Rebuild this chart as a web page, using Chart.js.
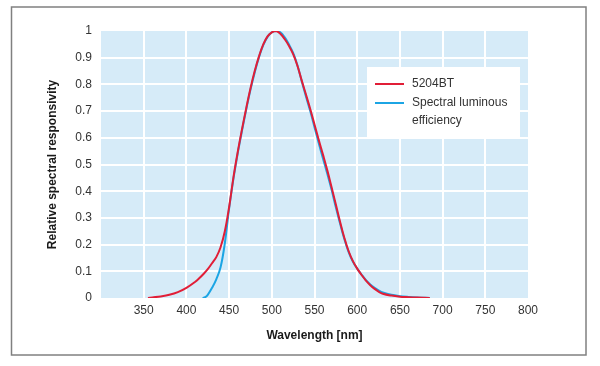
<!DOCTYPE html>
<html>
<head>
<meta charset="utf-8">
<script src="https://cdn.jsdelivr.net/npm/chart.js@4/dist/chart.umd.min.js"></script>
<style>
  html, body { margin: 0; padding: 0; background: #fff; }
  #wrap { position: relative; width: 600px; height: 366px; }
</style>
</head>
<body>
<div id="wrap"><canvas id="spectral" width="600" height="366"></canvas></div>
<script>
// wavelengths (nm) and relative responsivity
const redWl = [355, 360, 370, 380, 390, 400, 410, 415, 420,
  425, 430, 435, 440, 445, 450, 455, 460, 465, 470, 475, 480, 485, 490, 495, 500, 505,
  510, 515, 520, 525, 530, 535, 540, 545, 550, 555, 560, 565, 570, 575, 580, 585, 590,
  595, 600, 605, 610, 615, 620, 625, 630,
  640, 650, 660, 670, 685];
const redVal = [0, 0.002, 0.006, 0.012, 0.022, 0.038, 0.06, 0.074, 0.09,
  0.108, 0.13, 0.153, 0.19, 0.25, 0.34, 0.45, 0.545, 0.63, 0.71, 0.785, 0.85, 0.905, 0.95, 0.98, 0.995, 1.0,
  0.99, 0.97, 0.945, 0.913, 0.87, 0.815, 0.762, 0.708, 0.65, 0.592, 0.536, 0.478, 0.415, 0.35, 0.285, 0.225, 0.175,
  0.138, 0.11, 0.087, 0.066, 0.049, 0.035, 0.024, 0.016,
  0.009, 0.005, 0.003, 0.0015, 0];

const blueWl = [419, 422, 425,
  430, 435, 440, 445, 450, 455, 460, 465, 470, 475, 480, 485, 490, 495, 500, 505,
  510, 515, 520, 525, 530, 535, 540, 545, 550, 555, 560, 565, 570, 575, 580, 585, 590,
  595, 600, 605, 610, 615, 620, 625, 630,
  640, 650, 660, 670, 685];
const blueVal = [0, 0.003, 0.012,
  0.038, 0.07, 0.115, 0.205, 0.335, 0.445, 0.54, 0.625, 0.705, 0.78, 0.845, 0.902, 0.947, 0.978, 0.995, 1.0,
  0.995, 0.977, 0.95, 0.918, 0.872, 0.812, 0.755, 0.70, 0.64, 0.58, 0.522, 0.465, 0.405, 0.34, 0.278, 0.22, 0.172,
  0.136, 0.11, 0.088, 0.068, 0.052, 0.039, 0.029, 0.021,
  0.012, 0.007, 0.004, 0.002, 0];

const seriesNames = ['5204BT', 'Spectral luminous efficiency'];
const legendLines = [['5204BT'], ['Spectral luminous', 'efficiency']];
const xTicks = [350, 400, 450, 500, 550, 600, 650, 700, 750, 800];

const RED = 'rgb(225, 30, 55)';
const BLUE = 'rgb(28, 165, 228)';
const TXT = '#333333';
const FONT = '"Liberation Sans", Arial, sans-serif';

const toPoints = (xs, ys) => xs.map((x, i) => ({ x: x, y: ys[i] }));

// plot background, outer frame and the boxed legend
const decor = {
  id: 'decor',
  beforeDraw(chart) {
    const { ctx, chartArea: a } = chart;
    ctx.save();
    ctx.fillStyle = '#fff';
    ctx.fillRect(0, 0, chart.width, chart.height);
    ctx.fillStyle = 'rgb(214, 235, 248)';
    ctx.fillRect(a.left, a.top, a.right - a.left, a.bottom - a.top);
    ctx.strokeStyle = '#808080';
    ctx.lineWidth = 1.5;
    ctx.strokeRect(11.5, 7, 574.5, 348);
    ctx.restore();
  },
  beforeDatasetsDraw(chart) {
    const { ctx } = chart;
    ctx.save();
    ctx.fillStyle = '#fff';
    ctx.fillRect(367, 67, 153, 71);
    ctx.restore();
  },
  afterDatasetsDraw(chart) {
    const { ctx } = chart;
    ctx.save();
    ctx.font = '12px ' + FONT;
    ctx.textBaseline = 'middle';
    ctx.fillStyle = TXT;
    let y = 84;
    chart.data.datasets.forEach((ds, i) => {
      ctx.strokeStyle = ds.borderColor;
      ctx.lineWidth = 2;
      ctx.beginPath();
      ctx.moveTo(375, y);
      ctx.lineTo(404, y);
      ctx.stroke();
      legendLines[i].forEach((t, k) => {
        ctx.fillText(t, 412, y + k * 18);
      });
      y += 19;
    });
    ctx.restore();
  }
};

const edgeClear = (lo, hi) => (c) =>
  (c.tick && (c.tick.value === lo || c.tick.value === hi)) ? 'rgba(0,0,0,0)' : '#ffffff';

new Chart(document.getElementById('spectral'), {
  type: 'line',
  data: {
    datasets: [
      { label: seriesNames[0], data: toPoints(redWl, redVal), borderColor: RED, borderWidth: 2 },
      { label: seriesNames[1], data: toPoints(blueWl, blueVal), borderColor: BLUE, borderWidth: 2 }
    ]
  },
  options: {
    responsive: false,
    animation: false,
    events: [],
    elements: {
      point: { radius: 0 },
      line: { tension: 0.4, fill: false }
    },
    layout: { padding: { left: 0, right: 72, top: 31, bottom: 23 } },
    plugins: { legend: { display: false }, tooltip: { enabled: false } },
    scales: {
      x: {
        type: 'linear',
        min: 300,
        max: 800,
        afterBuildTicks: (s) => { s.ticks = [300].concat(xTicks).map(v => ({ value: v })); },
        afterFit: (s) => { s.height = 45; },
        border: { display: false },
        grid: { color: edgeClear(300, 800), lineWidth: 2, drawTicks: false },
        ticks: {
          padding: 5,
          color: TXT,
          font: { size: 12, family: FONT },
          maxRotation: 0,
          callback: (v) => (v === 300 ? '' : String(v))
        },
        title: {
          display: true,
          text: 'Wavelength [nm]',
          color: '#1a1a1a',
          font: { size: 12, weight: 'bold', family: FONT },
          padding: { top: 0, bottom: 0 }
        }
      },
      y: {
        min: 0,
        max: 1,
        afterFit: (s) => { s.width = 101; },
        border: { display: false },
        grid: { color: edgeClear(0, 1), lineWidth: 2, drawTicks: false },
        ticks: {
          stepSize: 0.1,
          padding: 9,
          color: TXT,
          font: { size: 12, family: FONT },
          callback: (v) => String(Math.round(v * 10) / 10)
        },
        title: {
          display: true,
          text: 'Relative spectral responsivity',
          color: '#1a1a1a',
          font: { size: 12, weight: 'bold', family: FONT },
          padding: { top: 45, bottom: 0 }
        }
      }
    }
  },
  plugins: [decor]
});
</script>
</body>
</html>
